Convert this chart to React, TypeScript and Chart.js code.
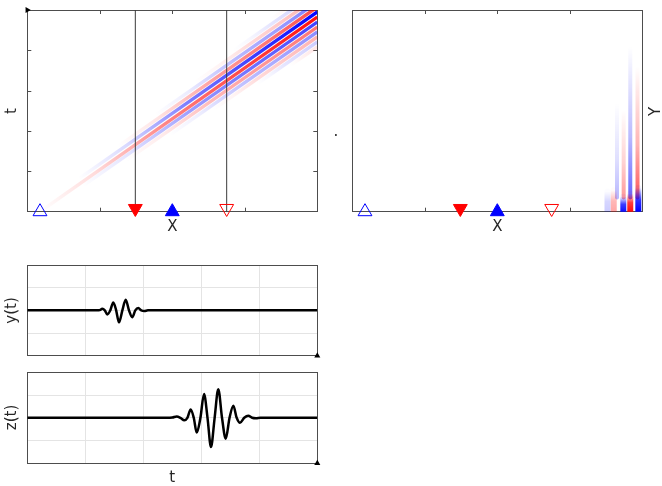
import React, { useEffect, useRef } from "react";
import { Chart, registerables } from "chart.js";

Chart.register(...registerables);

const W = 662;
const H = 486;

// ---------- axis ranges ----------
const xRange = [0, 4];
const tRange = [0, 5];
const sigTRange = [0, 5];
const sigVRange = [-2, 2];

// ---------- source / receivers (shared x positions of both top panels) ----------
const markerX = [0.175, 1.49, 2.0, 2.75];
const markerT = [0, 0.08, 0, 0.08];
const traceX = [1.49, 2.75];

// ---------- top-left wavefield: constant-phase stripes (signed amplitude) ----------
const stripeStartX = [3.361, 2.837, 2.313, 1.775, 1.251, 0.713, 0.175, 0.768, 1.361, 1.968, 2.561, 3.168, 3.621];
const stripeStartT = [4.772, 3.989, 3.205, 2.405, 1.621, 0.821, 0.0, 0.642, 1.264, 1.904, 2.526, 3.166, 3.614];
const stripeEndX = [4, 4, 4, 4, 4, 4, 4, 4, 4, 4, 4, 4, 4];
const stripeEndT = [5.57, 5.446, 5.322, 5.198, 5.074, 4.95, 4.826, 4.702, 4.578, 4.455, 4.331, 4.207, 4.083];
const stripeValue = [0.12, -0.2, 0.3, -0.5, 0.7, -1.0, 0.95, -0.75, 0.55, -0.45, 0.3, -0.2, 0.1];

// ---------- top-right wavefield: tall stripes and bottom lobes ----------
const tallX = [3.651, 3.743, 3.834, 3.934];
const tallBottomT = [0.35, 0.35, 0.35, 0.35];
const tallTopT = [2.69, 2.52, 4.09, 3.59];
const tallValue = [-0.28, 0.4, -0.6, 0.65];
const blobX = [3.52, 3.606, 3.738, 3.834, 3.945];
const blobTopT = [0.5, 0.53, 0.37, 0.45, 0.59];
const blobValue = [-0.2, 0.35, -0.95, 0.95, -1.0];

// ---------- recorded traces ----------
const yTimes = [0, 1.2, 1.25, 1.293, 1.336, 1.379, 1.431, 1.483, 1.532, 1.581, 1.639, 1.697, 1.753, 1.81, 1.862, 1.914, 1.965, 2.017, 2.08, 5];
const yValues = [0, 0, 0.01, 0.07, 0, -0.18, 0, 0.35, 0, -0.53, 0, 0.47, 0, -0.3, 0, 0.1, 0, -0.03, 0, 0];
const zTimes = [0, 2.4, 2.5, 2.576, 2.64, 2.707, 2.76, 2.817, 2.87, 2.921, 2.985, 3.047, 3.107, 3.167, 3.23, 3.293, 3.357, 3.421, 3.487, 3.552, 3.61, 3.667, 3.74, 3.81, 3.877, 3.943, 4.02, 5];
const zValues = [0, 0, 0.01, 0.06, 0, -0.11, 0, 0.37, 0, -0.65, 0, 1.05, 0, -1.28, 0, 1.26, 0, -0.92, 0, 0.53, 0, -0.22, 0, 0.09, 0, -0.02, 0, 0];

// ---------- styles ----------
const BORDER = "#4d4d4d";
const GRID = "#e4e4e4";
const TEXT = "#262626";
const FONT = '15px "DejaVu Sans", "Liberation Sans", sans-serif';
const markerStyle = [
  { rot: 0, fill: "rgba(0,0,0,0)", stroke: "#0000ff" },
  { rot: 180, fill: "#ff0000", stroke: "#ff0000" },
  { rot: 0, fill: "#0000ff", stroke: "#0000ff" },
  { rot: 180, fill: "rgba(0,0,0,0)", stroke: "#ff0000" },
];

function rgbOf(v: number) {
  return v >= 0 ? "255,0,0" : "0,0,255";
}

function gradColor(ctx: any) {
  const chart = ctx.chart;
  const ds = ctx.dataset;
  const fallback = "rgba(0,0,0,0)";
  if (!ds || !ds.grad || !chart.chartArea) return fallback;
  const xs = chart.scales.x;
  const ys = chart.scales.y;
  if (!xs || !ys) return fallback;
  const p0 = ds.data[0];
  const p1 = ds.data[ds.data.length - 1];
  const x0 = xs.getPixelForValue(p0.x);
  const y0 = ys.getPixelForValue(p0.y);
  const x1 = xs.getPixelForValue(p1.x);
  const y1 = ys.getPixelForValue(p1.y);
  if (![x0, y0, x1, y1].every((v) => Number.isFinite(v))) return fallback;
  const g = chart.ctx.createLinearGradient(x0, y0, x1, y1);
  const { rgb, amp, stops } = ds.grad;
  for (const [pos, f] of stops) g.addColorStop(pos, `rgba(${rgb},${Math.min(1, f * amp).toFixed(3)})`);
  return g;
}

function axesFor(xr: number[], yr: number[], grid: boolean) {
  const mk = (r: number[], pos: string, showGrid: boolean) => ({
    type: "linear",
    position: pos,
    min: r[0],
    max: r[1],
    ticks: { display: false, stepSize: 1 },
    grid: { display: showGrid, drawTicks: false, color: GRID, lineWidth: 1 },
    border: { display: true, color: BORDER, width: 1 },
  });
  return {
    x: mk(xr, "bottom", grid),
    y: mk(yr, "left", grid),
    x2: mk(xr, "top", false),
    y2: mk(yr, "right", false),
  };
}

type Lbl = { text: string; x: number; y: number; rot?: number; base?: string };

function decor(labels: Lbl[], xSides: string[], ySides: string[]) {
  return {
    id: "decor",
    beforeDatasetsDraw(chart: any) {
      const ctx = chart.ctx;
      const a = chart.chartArea;
      const xs = chart.scales.x;
      const ys = chart.scales.y;
      const L = 4;
      ctx.save();
      ctx.strokeStyle = BORDER;
      ctx.lineWidth = 1;
      for (const t of xs.ticks) {
        if (t.value <= xs.min || t.value >= xs.max) continue;
        const p = Math.round(xs.getPixelForValue(t.value)) + 0.5;
        for (const s of xSides) {
          ctx.beginPath();
          if (s === "top") {
            ctx.moveTo(p, a.top);
            ctx.lineTo(p, a.top + L);
          } else {
            ctx.moveTo(p, a.bottom);
            ctx.lineTo(p, a.bottom - L);
          }
          ctx.stroke();
        }
      }
      for (const t of ys.ticks) {
        if (t.value <= ys.min || t.value >= ys.max) continue;
        const p = Math.round(ys.getPixelForValue(t.value)) + 0.5;
        for (const s of ySides) {
          ctx.beginPath();
          if (s === "left") {
            ctx.moveTo(a.left, p);
            ctx.lineTo(a.left + L, p);
          } else {
            ctx.moveTo(a.right, p);
            ctx.lineTo(a.right - L, p);
          }
          ctx.stroke();
        }
      }
      ctx.fillStyle = TEXT;
      ctx.font = FONT;
      for (const l of labels) {
        ctx.save();
        ctx.translate(l.x, l.y);
        if (l.rot) ctx.rotate((l.rot * Math.PI) / 180);
        ctx.textAlign = "center";
        ctx.textBaseline = (l.base as any) || "middle";
        ctx.fillText(l.text, 0, 0);
        ctx.restore();
      }
      ctx.restore();
    },
  };
}

function pad(L: number, T: number, R: number, B: number) {
  return { left: L, top: T, right: W - R, bottom: H - B };
}

function baseOptions(padding: any, scales: any) {
  return {
    responsive: false,
    maintainAspectRatio: false,
    animation: false,
    events: [],
    layout: { padding },
    scales,
    plugins: { legend: { display: false }, tooltip: { enabled: false } },
  };
}

function markersDataset() {
  return {
    data: markerX.map((x, i) => ({ x, y: markerT[i] })),
    showLine: false,
    pointStyle: "triangle",
    pointRadius: 8,
    pointHoverRadius: 8,
    pointBorderWidth: 1,
    pointRotation: markerStyle.map((m) => m.rot),
    pointBackgroundColor: markerStyle.map((m) => m.fill),
    pointBorderColor: markerStyle.map((m) => m.stroke),
    clip: false,
    order: 0,
  };
}

function cornerDataset(x: number, y: number, rot: number) {
  return {
    data: [{ x, y }],
    showLine: false,
    pointStyle: "triangle",
    pointRadius: 3.5,
    pointBorderWidth: 0,
    pointRotation: rot,
    pointBackgroundColor: "#000",
    pointBorderColor: "#000",
    clip: false,
    order: 0,
  };
}

function lineSeg(x0: number, t0: number, x1: number, t1: number, v: number, width: number, stops: number[][], order: number, cap: string) {
  return {
    data: [
      { x: x0, y: t0 },
      { x: x1, y: t1 },
    ],
    showLine: true,
    borderWidth: width,
    borderColor: gradColor,
    borderCapStyle: cap,
    pointRadius: 0,
    grad: { rgb: rgbOf(v), amp: Math.abs(v), stops },
    clip: 0,
    order,
  };
}

function buildA(canvas: HTMLCanvasElement) {
  const datasets: any[] = [markersDataset(), cornerDataset(xRange[0], tRange[1], 90)];
  traceX.forEach((x) =>
    datasets.push({
      data: [
        { x, y: tRange[0] },
        { x, y: tRange[1] },
      ],
      showLine: true,
      borderWidth: 1,
      borderColor: "#3a3a3a",
      pointRadius: 0,
      order: 1,
    })
  );
  const stops = [
    [0, 0],
    [0.2, 0.15],
    [0.45, 0.5],
    [1, 1],
  ];
  stripeStartX.forEach((sx, i) =>
    datasets.push(lineSeg(sx, stripeStartT[i], stripeEndX[i], stripeEndT[i], stripeValue[i], 3.4, stops, 2, "butt"))
  );
  return new Chart(canvas, {
    type: "scatter",
    data: { datasets },
    options: baseOptions(pad(27.3, 10, 317.3, 211.7), axesFor(xRange, tRange, false)),
    plugins: [
      decor(
        [
          { text: "t", x: 12, y: 111, rot: -90 },
          { text: "X", x: 172.3, y: 227.5 },
        ],
        ["top", "bottom"],
        ["left", "right"]
      ),
    ],
  } as any);
}

function buildB(canvas: HTMLCanvasElement) {
  const datasets: any[] = [markersDataset()];
  const blobStops = [
    [0, 1],
    [0.5, 0.8],
    [1, 0.05],
  ];
  const tallStops = [
    [0, 1],
    [0.4, 0.45],
    [1, 0],
  ];
  blobX.forEach((x, i) => datasets.push(lineSeg(x, tRange[0], x, blobTopT[i], blobValue[i], 6, blobStops, 2, "round")));
  tallX.forEach((x, i) => datasets.push(lineSeg(x, tallBottomT[i], x, tallTopT[i], tallValue[i], 4, tallStops, 3, "round")));
  return new Chart(canvas, {
    type: "scatter",
    data: { datasets },
    options: baseOptions(pad(352.3, 10, 642.3, 211.7), axesFor(xRange, tRange, false)),
    plugins: [
      decor(
        [
          { text: "X", x: 497.3, y: 227.5 },
          { text: ".", x: 336, y: 135.5, base: "alphabetic" },
          { text: "Y", x: 656.5, y: 111.5, rot: -90 },
        ],
        ["top", "bottom"],
        []
      ),
    ],
  } as any);
}

function buildSignal(canvas: HTMLCanvasElement, times: number[], values: number[], top: number, bottom: number, labels: Lbl[]) {
  const datasets: any[] = [
    cornerDataset(sigTRange[1], sigVRange[0], 0),
    {
      data: times.map((t, i) => ({ x: t, y: values[i] })),
      showLine: true,
      borderColor: "#000",
      borderWidth: 2.5,
      pointRadius: 0,
      cubicInterpolationMode: "monotone",
      order: 1,
    },
  ];
  return new Chart(canvas, {
    type: "scatter",
    data: { datasets },
    options: baseOptions(pad(27.3, top, 317.3, bottom), axesFor(sigTRange, sigVRange, true)),
    plugins: [decor(labels, [], [])],
  } as any);
}

export default function App() {
  const r1 = useRef<HTMLCanvasElement>(null);
  const r2 = useRef<HTMLCanvasElement>(null);
  const r3 = useRef<HTMLCanvasElement>(null);
  const r4 = useRef<HTMLCanvasElement>(null);

  useEffect(() => {
    const charts = [
      buildA(r1.current!),
      buildB(r2.current!),
      buildSignal(r3.current!, yTimes, yValues, 265, 355.7, [{ text: "y(t)", x: 12.5, y: 310.5, rot: -90 }]),
      buildSignal(r4.current!, zTimes, zValues, 372.3, 463.3, [
        { text: "z(t)", x: 12.5, y: 417.5, rot: -90 },
        { text: "t", x: 172.3, y: 478 },
      ]),
    ];
    return () => charts.forEach((c) => c.destroy());
  }, []);

  const cs: React.CSSProperties = { position: "absolute", left: 0, top: 0, width: W, height: H };
  return (
    <div style={{ position: "absolute", left: 0, top: 0, width: W, height: H, background: "#fff" }}>
      <canvas ref={r1} width={W} height={H} style={cs} />
      <canvas ref={r2} width={W} height={H} style={cs} />
      <canvas ref={r3} width={W} height={H} style={cs} />
      <canvas ref={r4} width={W} height={H} style={cs} />
    </div>
  );
}
